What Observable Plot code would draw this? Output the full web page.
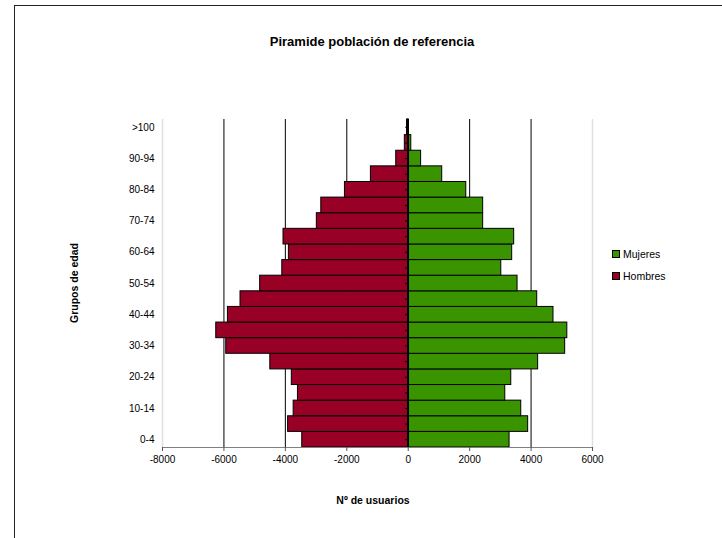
<!DOCTYPE html>
<html>
<head>
<meta charset="utf-8">
<script src="https://cdn.jsdelivr.net/npm/d3@7"></script>
<script src="https://cdn.jsdelivr.net/npm/@observablehq/plot@0.6"></script>
<style>
  html, body { margin: 0; padding: 0; background: #fff; overflow: hidden; }
  #wrap { position: relative; width: 722px; height: 538px; font-family: "Liberation Sans", Arial, sans-serif; color: #000; }
  #border { position: absolute; left: 14px; top: 5px; width: 760px; height: 600px; border: 1px solid #222; box-sizing: border-box; }
  #chart { position: absolute; left: 0; top: 0; }
  .txt { position: absolute; white-space: nowrap; transform: translate(-50%, -50%); }
  #title { left: 372px; top: 41px; font-size: 13px; font-weight: bold; }
  #xtitle { left: 373px; top: 500px; font-size: 10.5px; font-weight: bold; }
  #ytitle { left: 74px; top: 283px; font-size: 10.5px; font-weight: bold; transform: translate(-50%, -50%) rotate(-90deg); }
  .leg { position: absolute; left: 612px; font-size: 10.5px; display: flex; align-items: center; gap: 3px; }
  .sw { width: 6px; height: 6px; border: 1px solid #000; }
</style>
</head>
<body>
<div id="wrap">
  <div id="border"></div>
  <div id="chart"></div>
  <div id="title" class="txt">Piramide población de referencia</div>
  <div id="xtitle" class="txt">Nº de usuarios</div>
  <div id="ytitle" class="txt">Grupos de edad</div>
  <div class="leg" style="top:248px"><div class="sw" style="background:#3a9400"></div><span>Mujeres</span></div>
  <div class="leg" style="top:270px"><div class="sw" style="background:#990026"></div><span>Hombres</span></div>
</div>
<script>
const ageGroups = ["0-4","5-9","10-14","15-19","20-24","25-29","30-34","35-39","40-44","45-49","50-54","55-59","60-64","65-69","70-74","75-79","80-84","85-89","90-94","95-99",">100"];
const hombres = [-3450,-3910,-3730,-3590,-3790,-4490,-5925,-6250,-5870,-5460,-4820,-4100,-3885,-4060,-2975,-2830,-2060,-1215,-390,-110,-40];
const mujeres = [3300,3905,3680,3160,3355,4230,5110,5180,4730,4200,3560,3030,3385,3450,2440,2440,1890,1107,420,100,20];
const yLabels = ["0-4","10-14","20-24","30-34","40-44","50-54","60-64","70-74","80-84","90-94",">100"];
const xTicks = [-8000,-6000,-4000,-2000,0,2000,4000,6000];
const gridLines = [-6000,-4000,-2000,2000,4000];

const menData = ageGroups.map((g, i) => ({g, v: hombres[i]}));
const womenData = ageGroups.map((g, i) => ({g, v: mujeres[i]}));

const chart = Plot.plot({
  width: 722,
  height: 538,
  marginLeft: 162,
  marginRight: 130,
  marginTop: 119,
  marginBottom: 91,
  style: {fontFamily: "'Liberation Sans', Arial, sans-serif", fontSize: "10px", color: "#000", background: "transparent"},
  x: {domain: [-8000, 6000], label: null},
  y: {domain: ageGroups.slice().reverse(), padding: 0, round: false, label: null},
  marks: [
    Plot.ruleX([-8000, 6000], {stroke: "#e0e0e0", strokeWidth: 1.5}),
    Plot.ruleX(gridLines, {stroke: "#000", strokeWidth: 1}),
    Plot.barX(menData, {y: "g", x: "v", fill: "#990026", stroke: "#000", strokeWidth: 1}),
    Plot.barX(womenData, {y: "g", x: "v", fill: "#3a9400", stroke: "#000", strokeWidth: 1}),
    Plot.ruleX([0], {stroke: "#000", strokeWidth: 1.5}),
    Plot.ruleY(ageGroups, {y: d => d, x1: -80, x2: 0, stroke: "#000"}),
    Plot.frame({anchor: "bottom", stroke: "#808080", strokeWidth: 1.2}),
    Plot.axisX({ticks: xTicks, tickSize: 4, tickPadding: 4, tickFormat: d => String(d), stroke: "#555"}),
    Plot.axisY({ticks: yLabels, tickSize: 0, tickPadding: 8})
  ]
});
document.getElementById("chart").appendChild(chart);
</script>
</body>
</html>
